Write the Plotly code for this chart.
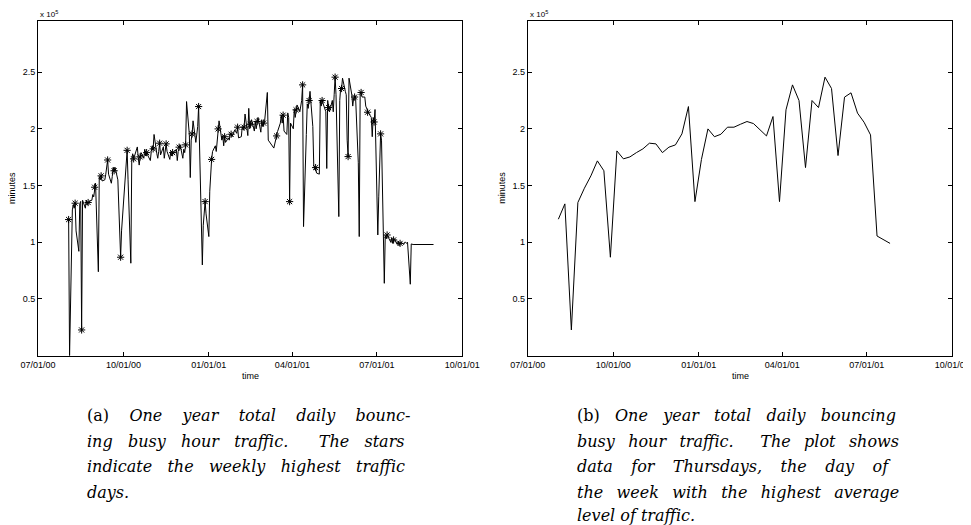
import pandas as pd
import plotly.graph_objects as go

# ---------------- data (values in units of 1e5 minutes; None = no data) ----------------
daily_start = "2000-08-03"
daily_values = [
    1.20, 0.00,                          # Aug 3-4 2000
    1.285, 1.33, 1.30, 1.344, 1.10,      # Aug 7
    0.92, 1.34, 1.36, 0.227, 1.37,       # Aug 14
    1.30, 1.37, 1.33, 1.35, 1.36,        # Aug 21
    1.37, 1.42, 1.40, 1.485, 1.52,       # Aug 28
    0.74, 1.58, 1.55, 1.585, 1.54,       # Sep 4
    1.55, 1.60, 1.66, 1.725, 1.60,       # Sep 11
    1.52, 1.58, 1.66, 1.63, 1.66,        # Sep 18
    1.55, 1.35, 1.10, 0.868, 1.10,       # Sep 25
    1.49, 1.62, 1.72, 1.81, 1.55,        # Oct 2
    0.815, 1.73, 1.78, 1.735, 1.76,      # Oct 9
    1.84, 1.74, 1.68, 1.752, 1.79,       # Oct 16
    1.74, 1.82, 1.76, 1.79, 1.77,        # Oct 23
    1.72, 1.80, 1.85, 1.823, 1.95,       # Oct 30
    1.78, 1.74, 1.80, 1.873, 1.77,       # Nov 6
    1.84, 1.74, 1.80, 1.867, 1.80,       # Nov 13
    1.73, 1.80, 1.76, 1.79, 1.78,        # Nov 20
    1.82, 1.72, 1.80, 1.838, 1.86,       # Nov 27
    1.74, 1.82, 1.79, 1.858, 2.24,       # Dec 4
    1.95, 1.57, 1.90, 1.955, 2.07,       # Dec 11
    1.88, 1.96, 2.02, 2.196, 1.85,       # Dec 18
    0.80, 1.15, 1.30, 1.358, 1.25,       # Dec 25
    1.05, 1.45, 1.65, 1.73, 1.80,        # Jan 1 2001
    1.85, 1.80, 1.92, 1.999, 2.07,       # Jan 8
    1.90, 1.94, 1.85, 1.93, 1.88,        # Jan 15
    1.92, 1.90, 1.96, 1.952, 1.93,       # Jan 22
    1.99, 1.97, 1.96, 2.014, 1.92,       # Jan 29
    1.93, 2.02, 1.99, 2.014, 2.13,       # Feb 5
    1.94, 2.18, 2.00, 2.04, 2.08,        # Feb 12
    1.98, 2.06, 2.00, 2.064, 2.10,       # Feb 19
    1.97, 2.08, 2.02, 2.05, 2.06,        # Feb 26
    2.32, 1.90, None, None, None,        # Mar 5 (gap)
    1.83, 1.87, 1.90, 1.937, 1.975,      # Mar 12
    2.05, 2.12, 2.05, 2.12, 1.98,        # Mar 19
    1.95, 2.14, 2.10, 1.358, 2.05,       # Mar 26
    2.00, 2.17, 2.10, 2.167, 2.21,       # Apr 2
    2.15, 2.20, 2.25, 2.387, 1.138,      # Apr 9
    1.95, 2.22, 2.18, 2.249, 2.33,       # Apr 16
    2.02, 1.68, 1.64, 1.658, 1.61,       # Apr 23
    1.60, 2.25, 2.20, 2.249, 2.22,       # Apr 30
    2.15, 1.65, 2.25, 2.187, 2.15,       # May 7
    2.25, 2.15, 2.30, 2.455, 2.30,       # May 14
    1.226, 2.25, 2.36, 2.355, 2.446,     # May 21
    2.33, 2.30, 1.90, 1.755, 2.446,      # May 28
    2.30, 2.20, 2.27, 2.28, 2.29,        # Jun 4
    1.70, 1.05, 2.30, 2.32, 2.28,        # Jun 11
    2.28, 2.20, 2.18, 2.146, 2.14,       # Jun 18
    2.10, 1.93, 2.10, 2.06, 2.17,        # Jun 25
    1.064, 1.40, 1.75, 1.955, 1.90,      # Jul 2
    0.638, 1.06, 1.03, 1.064, 1.05,      # Jul 9
    1.00, 1.04, 0.99, 1.02, 1.03,        # Jul 16
    0.98, 1.01, 0.97, 0.99, 1.00,        # Jul 23
    0.98, 1.00, 1.00, 0.99, 1.00,        # Jul 30
    0.63, 0.985, 0.98, 0.98, 0.98,       # Aug 6
    0.98, 0.98, 0.98, 0.98, 0.98,        # Aug 13
    0.98, 0.98, 0.98, 0.98, 0.98,        # Aug 20
    0.98, 0.98, 0.98, 0.98, 0.98,        # Aug 27
]

thursday_start = "2000-08-03"
thursday_values = [
    1.203, 1.338, 0.227, 1.35, 1.476, 1.585, 1.717, 1.63, 0.868, 1.805,
    1.735, 1.752, 1.79, 1.823, 1.873, 1.867, 1.79, 1.838, 1.858, 1.955,
    2.196, 1.358, 1.73, 1.999, 1.93, 1.952, 2.014, 2.014, 2.04, 2.064,
    2.046, None, 1.937, 2.108, 1.358, 2.167, 2.387, 2.249, 1.658, 2.249,
    2.187, 2.455, 2.355, 1.764, 2.279, 2.317, 2.138, 2.058, 1.946, 1.055,
    1.02, 0.99,
]

tick_dates = ["2000-07-01", "2000-10-01", "2001-01-01", "2001-04-01", "2001-07-01", "2001-10-01"]
tick_labels = ["07/01/00", "10/01/00", "01/01/01", "04/01/01", "07/01/01", "10/01/01"]
y_ticks = [0.5, 1, 1.5, 2, 2.5]
y_tick_labels = ["0.5", "1", "1.5", "2", "2.5"]

caption_a = [
    "(a) <i>One year total daily bounc-</i>",
    "<i>ing busy hour traffic.  The stars</i>",
    "<i>indicate the weekly highest traffic</i>",
    "<i>days.</i>",
]
caption_b = [
    "(b) <i>One year total daily bouncing</i>",
    "<i>busy hour traffic.  The plot shows</i>",
    "<i>data for Thursdays, the day of</i>",
    "<i>the week with the highest average</i>",
    "<i>level of traffic.</i>",
]

# ---------------- build ----------------
daily_dates = pd.bdate_range(daily_start, periods=len(daily_values))
thu_dates = pd.date_range(thursday_start, periods=len(thursday_values), freq="7D")
daily = pd.Series(daily_values, index=daily_dates, dtype="float")
stars = daily[daily.index.isin(thu_dates)].dropna()

# page body has an 8px margin: build the figure 8px smaller and shift coordinates
OFF = 8
W, H = 971 - OFF, 525 - OFF
def px(x):
    return (x - OFF) / W
def py(y):
    return 1 - (y - OFF) / H

fig = go.Figure()
fig.add_trace(go.Scatter(x=daily.index, y=daily.values, mode="lines", connectgaps=True,
                         line=dict(color="black", width=1), xaxis="x", yaxis="y",
                         showlegend=False))
fig.add_trace(go.Scatter(x=stars.index, y=stars.values, mode="markers",
                         marker=dict(symbol="asterisk-open", size=6, color="black",
                                     line=dict(color="black", width=1)),
                         xaxis="x", yaxis="y", showlegend=False))
fig.add_trace(go.Scatter(x=thu_dates, y=thursday_values, mode="lines", connectgaps=True,
                         line=dict(color="black", width=1), xaxis="x2", yaxis="y2",
                         showlegend=False))

tick_font = dict(family="Liberation Sans, Arial, sans-serif", size=9, color="black")
def xax(x0, x1, anchor):
    return dict(domain=[px(x0), px(x1)], anchor=anchor, type="date", automargin=False,
                range=[tick_dates[0], tick_dates[-1]], tickvals=tick_dates,
                ticktext=tick_labels, ticks="inside", ticklen=4, tickwidth=1,
                tickcolor="black", showline=True, linecolor="black", linewidth=1,
                mirror="ticks", showgrid=False, zeroline=False, tickfont=tick_font)
def yax(anchor):
    return dict(domain=[py(355.7), py(21)], anchor=anchor, range=[0, 2.95], automargin=False,
                tickvals=y_ticks, ticktext=y_tick_labels, ticks="inside", ticklen=4,
                tickwidth=1, tickcolor="black", showline=True, linecolor="black",
                linewidth=1, mirror="ticks", showgrid=False, zeroline=False,
                tickfont=tick_font)

fig.update_layout(
    width=W, height=H, autosize=False,
    margin=dict(l=0, r=0, t=0, b=0, pad=0),
    paper_bgcolor="white", plot_bgcolor="white",
    xaxis=xax(38, 462.3, "y"),
    yaxis=yax("x"),
    xaxis2=xax(527.7, 952.3, "y2"),
    yaxis2=yax("x2"),
)

ann = []
lab_font = dict(family="Liberation Sans, Arial, sans-serif", size=9, color="black")
for x0, x1 in [(38, 462.3), (527.7, 952.3)]:
    ann.append(dict(text="x 10<sup>5</sup>", x=px(x0), y=py(14), xref="paper", yref="paper",
                    xanchor="left", yanchor="middle", showarrow=False, font=dict(lab_font, size=8)))
    ann.append(dict(text="minutes", x=px(x0 - 26), y=py(188), xref="paper", yref="paper",
                    xanchor="center", yanchor="middle", textangle=-90, showarrow=False, font=lab_font))
    ann.append(dict(text="time", x=px((x0 + x1) / 2), y=py(376), xref="paper", yref="paper",
                    xanchor="center", yanchor="middle", showarrow=False, font=lab_font))

# extra word-gap filler (non-breaking + thin spaces) to imitate justified text
NB, TH = "\u00a0", "\u2009"
pad_a = [NB * 3, NB * 2, NB * 2, ""]
pad_b = [NB * 2, NB + TH, NB * 2 + TH, NB + TH, ""]
cap_font = dict(family="DejaVu Serif, serif", size=16, color="black")
cap_y = [415, 441.5, 466.5, 492.5, 515.5]
for lines, pads, x0 in [(caption_a, pad_a, 85), (caption_b, pad_b, 575)]:
    for i, (t, p) in enumerate(zip(lines, pads)):
        if p:
            t = t.replace(" ", " " + p)
        ann.append(dict(text=t, x=px(x0), y=py(cap_y[i]), xref="paper", yref="paper",
                        xanchor="left", yanchor="middle", showarrow=False, font=cap_font))
fig.update_layout(annotations=ann)

fig.write_html("out.html")
